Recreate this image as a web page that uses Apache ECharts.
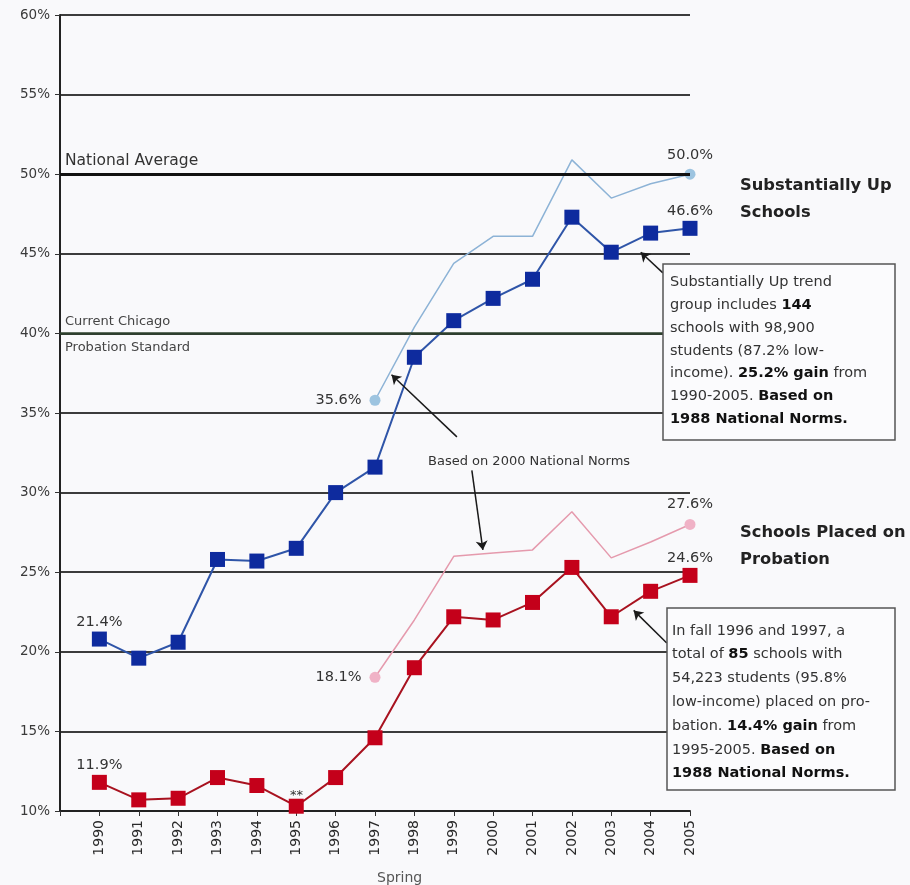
<!DOCTYPE html>
<html>
<head>
<meta charset="utf-8">
<script src="https://cdn.jsdelivr.net/npm/echarts@6/dist/echarts.min.js"></script>
<style>
html,body{margin:0;padding:0;background:#f9f9fb;}
#chart{width:910px;height:885px;}
</style>
</head>
<body>
<div id="chart"></div>
<script>
// ---- data ----
const years = [1990,1991,1992,1993,1994,1995,1996,1997,1998,1999,2000,2001,2002,2003,2004,2005];
const upSchools1988 = [20.8,19.6,20.6,25.8,25.7,26.5,30.0,31.6,38.5,40.8,42.2,43.4,47.3,45.1,46.3,46.6];
const upSchools2000 = [null,null,null,null,null,null,null,35.8,40.4,44.4,46.1,46.1,50.9,48.5,49.4,50.0];
const probation1988 = [11.8,10.7,10.8,12.1,11.6,10.3,12.1,14.6,19.0,22.2,22.0,23.1,25.3,22.2,23.8,24.8];
const probation2000 = [null,null,null,null,null,null,null,18.4,22.0,26.0,26.2,26.4,28.8,25.9,26.9,28.0];
const upLabels1988 = {1990:'21.4%', 2005:'46.6%'};
const upLabels2000 = {1997:'35.6%', 2005:'50.0%'};
const probLabels1988 = {1990:'11.9%', 2005:'24.6%'};
const probLabels2000 = {1997:'18.1%', 2005:'27.6%'};
const yMin = 10, yMax = 60, yStep = 5;
const xMin = 1989, xMax = 2005;

const FONT = 'DejaVu Sans';

function pairs(vals, labels, labelPos, dist){
  const out = [];
  vals.forEach((v,i)=>{
    if(v===null) return;
    const y = years[i];
    const item = {value:[y,v]};
    if(labels[y]){
      const pos = (labelPos && labelPos[y]) || 'top';
      item.label = {show:true, formatter:labels[y], position:pos, distance:pos==='left'?8:dist,
        color:'#333', fontSize:14.5, fontFamily:FONT};
    }
    out.push(item);
  });
  return out;
}
function endSize(vals, size){
  const n = vals.filter(v=>v!==null).length;
  return function(val, params){
    const di = params.dataIndex;
    return (di===0 || di===n-1) ? size : 0;
  };
}

const chart = echarts.init(document.getElementById('chart'));
const txt = (t, x, y, opt) => Object.assign({type:'text', x:x, y:y, z:100,
  style:Object.assign({text:t, fill:'#333', font:'12px "'+FONT+'"', textVerticalAlign:'middle'}, opt||{})});

const option = {
  backgroundColor:'#f9f9fb',
  animation:false,
  grid:{left:60, right:220, top:15, bottom:74},
  xAxis:{
    type:'value', min:xMin, max:xMax, interval:1,
    axisLine:{lineStyle:{color:'#222', width:2}},
    axisTick:{show:true, length:5, lineStyle:{color:'#333'}},
    splitLine:{show:false},
    axisLabel:{rotate:90, margin:9, color:'#2a2a2a', fontSize:14, fontFamily:FONT,
      formatter:v => v===xMin ? '' : String(v)}
  },
  yAxis:{
    type:'value', min:yMin, max:yMax, interval:yStep,
    axisLine:{show:true, lineStyle:{color:'#222', width:2}},
    axisTick:{show:true, length:5, lineStyle:{color:'#333'}},
    axisLabel:{color:'#3a3a3a', fontSize:13.5, fontFamily:FONT, margin:10, formatter:'{value}%'},
    splitLine:{show:true, lineStyle:{color:'#3c3c3c', width:2}}
  },
  series:[
    {
      name:'Substantially Up (2000 norms)', type:'line',
      data:pairs(upSchools2000, upLabels2000, {1997:'left'}, 6),
      symbol:'circle', symbolSize:endSize(upSchools2000, 11),
      itemStyle:{color:'#9dc4e0'},
      lineStyle:{color:'#8db3d6', width:1.5}, z:3,
      markLine:{
        silent:true, symbol:['none','none'], label:{show:false},
        lineStyle:{color:'#111', width:3, type:'solid'},
        data:[[{coord:[xMin,50]},{coord:[xMax,50]}]]
      }
    },
    {
      name:'Substantially Up (1988 norms)', type:'line',
      data:pairs(upSchools1988, upLabels1988, null, 2),
      symbol:'rect', symbolSize:15,
      itemStyle:{color:'#0e2b9e'},
      lineStyle:{color:'#2f55a8', width:2}, z:4,
      markLine:{
        silent:true, symbol:['none','none'], label:{show:false},
        lineStyle:{color:'#2c3f2c', width:2.5, type:'solid'},
        data:[[{coord:[xMin,40]},{coord:[xMax,40]}]]
      }
    },
    {
      name:'Probation (2000 norms)', type:'line',
      data:pairs(probation2000, probLabels2000, {1997:'left'}, 7),
      symbol:'circle', symbolSize:endSize(probation2000, 11),
      itemStyle:{color:'#f0b2c6'},
      lineStyle:{color:'#e59aad', width:1.5}, z:3,
      markLine:{
        silent:true, symbol:['none','arrow'], symbolSize:9, label:{show:false},
        lineStyle:{color:'#1a1a1a', width:1.5, type:'solid'},
        data:[
          [{coord:[1999.08,33.5]},{coord:[1997.42,37.4]}],
          [{coord:[1999.46,31.4]},{coord:[1999.74,26.4]}],
          [{coord:[2004.31,43.8]},{coord:[2003.75,45.1]}],
          [{coord:[2004.41,20.55]},{coord:[2003.57,22.6]}]
        ]
      }
    },
    {
      name:'Probation (1988 norms)', type:'line',
      data:pairs(probation1988, probLabels1988, null, 2),
      symbol:'rect', symbolSize:15,
      itemStyle:{color:'#c4001a'},
      lineStyle:{color:'#a8121f', width:2}, z:4
    }
  ],
  graphic:[
    txt('National Average', 65, 161, {font:'15.5px "'+FONT+'"', fill:'#333'}),
    txt('Current Chicago', 65, 322, {font:'13px "'+FONT+'"', fill:'#444'}),
    txt('Probation Standard', 65, 348, {font:'13px "'+FONT+'"', fill:'#444'}),
    txt('Based on 2000 National Norms', 428, 462, {font:'13px "'+FONT+'"', fill:'#333'}),
    txt('**', 290, 796, {font:'13px "'+FONT+'"', fill:'#333'}),
    txt('Spring', 377, 878, {font:'14px "'+FONT+'"', fill:'#555'}),
    txt('Substantially Up', 740, 186, {font:'bold 16.3px "'+FONT+'"', fill:'#222'}),
    txt('Schools', 740, 213, {font:'bold 16.3px "'+FONT+'"', fill:'#222'}),
    txt('Schools Placed on', 740, 533, {font:'bold 16.3px "'+FONT+'"', fill:'#222'}),
    txt('Probation', 740, 560, {font:'bold 16.3px "'+FONT+'"', fill:'#222'}),
    {type:'rect', z:90, shape:{x:663, y:264, width:232, height:176},
      style:{fill:'#fbfbfd', stroke:'#555', lineWidth:1.5}},
    {type:'text', z:100, x:670, y:271, style:{
      text:'Substantially Up trend\ngroup includes {b|144}\nschools with 98,900\nstudents (87.2% low-\nincome). {b|25.2% gain} from\n1990-2005. {b|Based on}\n{b|1988 National Norms.}',
      font:'14.5px "'+FONT+'"', fill:'#333', lineHeight:22.8,
      rich:{b:{fontWeight:'bold', fontSize:14.5, fontFamily:FONT, fill:'#111', lineHeight:22.8}}
    }},
    {type:'rect', z:90, shape:{x:667, y:608, width:228, height:182},
      style:{fill:'#fbfbfd', stroke:'#555', lineWidth:1.5}},
    {type:'text', z:100, x:672, y:619, style:{
      text:'In fall 1996 and 1997, a\ntotal of {b|85} schools with\n54,223 students (95.8%\nlow-income) placed on pro-\nbation. {b|14.4% gain} from\n1995-2005. {b|Based on}\n{b|1988 National Norms.}',
      font:'14.5px "'+FONT+'"', fill:'#333', lineHeight:23.8,
      rich:{b:{fontWeight:'bold', fontSize:14.5, fontFamily:FONT, fill:'#111', lineHeight:23.8}}
    }}
  ]
};
chart.setOption(option);
</script>
</body>
</html>
